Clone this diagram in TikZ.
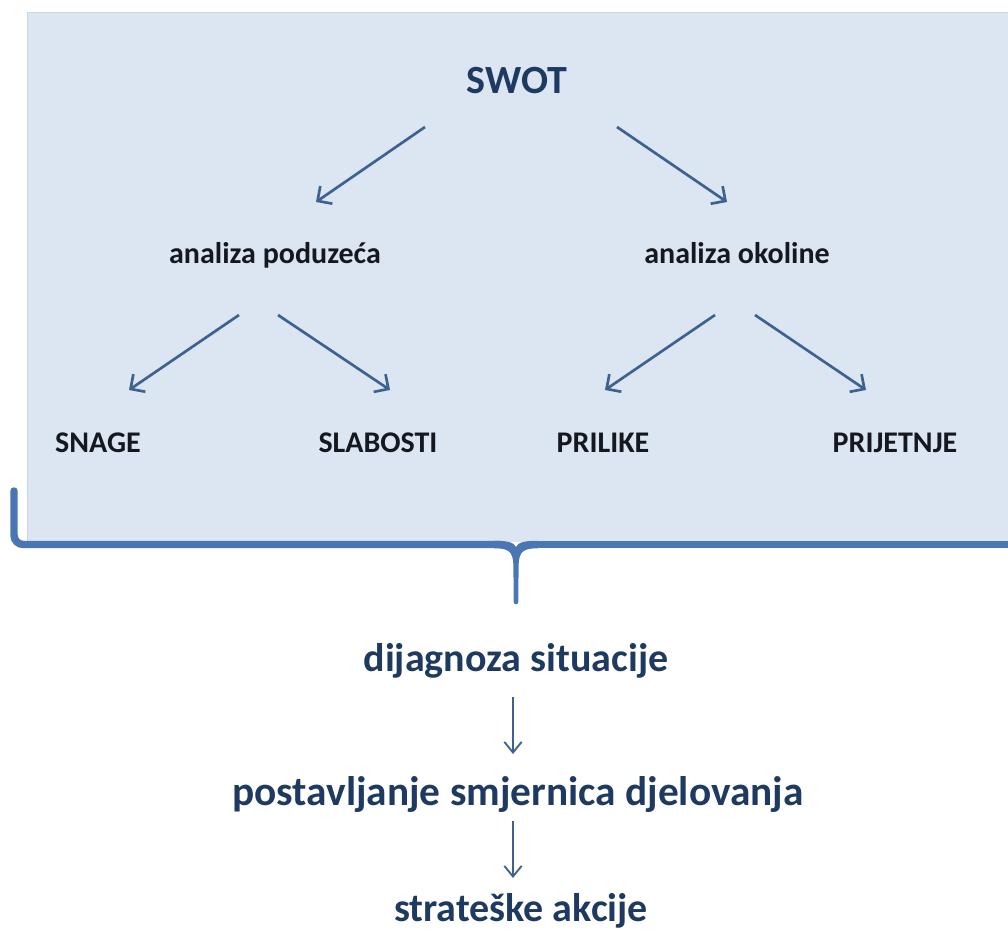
\documentclass[tikz,border=0pt]{standalone}
\usepackage{fontspec}
\setmainfont{Carlito}
\usetikzlibrary{arrows.meta}
\definecolor{panelc}{HTML}{DCE6F2}
\definecolor{paneledge}{HTML}{CAD7E8}
\definecolor{bracec}{HTML}{4A77B4}
\definecolor{arrowc}{HTML}{3D6290}
\definecolor{titlec}{HTML}{1F3A60}
\definecolor{labelc}{HTML}{15181E}
\begin{document}
\begin{tikzpicture}[x=0.75pt,y=-0.75pt,
  titletext/.style={font=\fontsize{30}{36}\selectfont\bfseries, text=titlec, inner sep=0pt, anchor=base},
  subtext/.style={font=\fontsize{22.5}{27}\selectfont\bfseries, text=labelc, inner sep=0pt, anchor=base},
  diagarrow/.style={draw=arrowc, line width=2pt, -{Straight Barb[length=8pt,width=16pt]}},
  downarrow/.style={draw=arrowc, line width=1.4pt, -{Straight Barb[length=8pt,width=13pt]}},
  bracepart/.style={draw=bracec, line width=5.6pt}]
\useasboundingbox (0,0) rectangle (1008,931);
\clip (0,0) rectangle (1008,931);
% panel
\fill[panelc] (27,12) rectangle (1020,542);
\draw[paneledge, line width=0.8pt] (27.5,542) -- (27.5,12.5) -- (1020,12.5);
% brace
\draw[bracepart, rounded corners=7pt, line cap=round] (14,491) |- (500,544.5);
\draw[bracepart] (532,544.5) -- (1015,544.5);
\fill[bracec] (494,540.75) .. controls (508,540.75) and (514,542.5) .. (516,547)
  .. controls (518,542.5) and (524,540.75) .. (538,540.75)
  -- (538,548.25) .. controls (524,548.25) and (519,551) .. (518.6,565)
  -- (518.3,602) .. controls (518.3,605) and (513.7,605) .. (513.7,602)
  -- (513.4,565) .. controls (513,551) and (508,548.25) .. (494,548.25) -- cycle;
% texts
\node[titletext] (swot) at (517,94) {SWOT};
\node[subtext] (ap) at (275,263) {analiza poduzeća};
\node[subtext] (ao) at (737,263) {analiza okoline};
\node[subtext] (sn) at (98,452) {SNAGE};
\node[subtext] (sl) at (378,452) {SLABOSTI};
\node[subtext] (pr) at (603,452) {PRILIKE};
\node[subtext] (pj) at (895,452) {PRIJETNJE};
\node[titletext] (d1) at (516,671) {dijagnoza situacije};
\node[titletext, font=\fontsize{31}{37}\selectfont\bfseries] (d2) at (518,805) {postavljanje smjernica djelovanja};
\node[titletext] (d3) at (521,921) {strateške akcije};
% arrow end points
\coordinate (swotL) at (425,127);  \coordinate (apT) at (316,202);
\coordinate (swotR) at (617,127);  \coordinate (aoT) at (727,202);
\coordinate (apL) at (239,315);    \coordinate (snT) at (129,390);
\coordinate (apR) at (278,315);    \coordinate (slT) at (390,390);
\coordinate (aoL) at (715,315);    \coordinate (prT) at (605,390);
\coordinate (aoR) at (755,315);    \coordinate (pjT) at (866,390);
\coordinate (d1B) at (513,697);    \coordinate (d2T) at (513,754);
\coordinate (d2B) at (513,821);    \coordinate (d3T) at (513,878);
\draw[diagarrow] (swotL) -- (apT);
\draw[diagarrow] (swotR) -- (aoT);
\draw[diagarrow] (apL) -- (snT);
\draw[diagarrow] (apR) -- (slT);
\draw[diagarrow] (aoL) -- (prT);
\draw[diagarrow] (aoR) -- (pjT);
\draw[downarrow] (d1B) -- (d2T);
\draw[downarrow] (d2B) -- (d3T);
\end{tikzpicture}
\end{document}
